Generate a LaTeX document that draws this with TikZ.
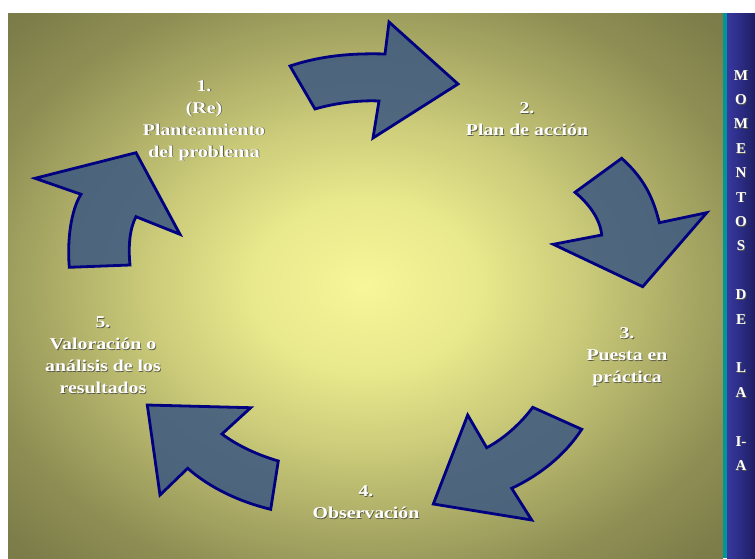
\documentclass[tikz,border=0pt]{standalone}
\usepackage{fontspec}
\setmainfont{Liberation Serif}
\newfontfamily\lblfont[FakeStretch=1.2]{Liberation Serif}
\usetikzlibrary{shadings}
\definecolor{arrowfill}{RGB}{62,90,128}
\definecolor{arrowline}{RGB}{0,0,128}
\definecolor{shadowc}{RGB}{90,90,70}
\definecolor{tealline}{RGB}{0,150,150}
\definecolor{panelL}{RGB}{56,56,160}
\definecolor{panelR}{RGB}{30,30,100}
\pgfdeclareradialshading{bgshade}{\pgfpoint{0bp}{0bp}}{%
rgb(0bp)=(0.97,0.97,0.60);
rgb(8bp)=(0.91,0.91,0.55);
rgb(15bp)=(0.80,0.80,0.48);
rgb(22bp)=(0.67,0.67,0.40);
rgb(28bp)=(0.56,0.56,0.33);
rgb(34bp)=(0.49,0.49,0.29);
rgb(50bp)=(0.43,0.43,0.26)}
\newcommand\shd[1]{\leavevmode\rlap{\kern0.8pt\raisebox{-0.8pt}{\color{shadowc}#1}}#1}
\tikzset{
  bigarrow/.style={draw=arrowline, line width=2.8pt, line join=miter,
    fill=arrowfill, fill opacity=0.87},
  lbl/.style={text=white, align=center, inner sep=0pt, anchor=north,
    font=\lblfont\bfseries\fontsize{16.5}{22}\selectfont},
  paneltext/.style={text=white, align=center, inner sep=0pt, anchor=north,
    font=\bfseries\fontsize{15}{24.4}\selectfont}
}
\begin{document}
\begin{tikzpicture}[x=1pt,y=-1pt]
\useasboundingbox (0,0) rectangle (755,558);
\fill[white] (0,0) rectangle (755,558);
% background
\shade[shading=bgshade] (8,13) rectangle (723,558);
% right panel
\fill[tealline] (723,13) rectangle (727,558);
\shade[left color=panelL, right color=panelR] (727,13) rectangle (755,558);

% arrow 1 (top)
\path[bigarrow] (290,66) .. controls (320,56) and (350,53) .. (385,54)
  -- (389,22) -- (458,84) -- (373,138) -- (379,101)
  .. controls (360,100) and (335,103) .. (315,109) -- cycle;
% arrow 2 (right)
\path[bigarrow] (621.7,158.3) -- (575,192.3)
  .. controls (588,203) and (600,218) .. (601.7,235)
  -- (553.3,244.3) -- (642.7,286.7) -- (706.7,212.7) -- (659.3,222.7)
  .. controls (652,192) and (640,175) .. cycle;
% arrow 3 (bottom right)
\path[bigarrow] (532.7,407.3) -- (581.7,429.3)
  .. controls (565,455) and (540,475) .. (511.7,488.3)
  -- (531.7,520) -- (433.3,504) -- (467.7,415) -- (486.7,447.7)
  .. controls (505,438) and (522,422) .. cycle;
% arrow 4 (bottom left)
\path[bigarrow] (147.3,405) -- (250.7,407.7) -- (222,434)
  .. controls (238,446) and (258,455) .. (278.3,461)
  -- (270.7,509.3)
  .. controls (240,502) and (210,488) .. (187.7,468.3)
  -- (160,495) -- cycle;
% arrow 5 (left)
\path[bigarrow] (136,152.7) -- (35,178.3) -- (81,194.3)
  .. controls (71,210) and (67,240) .. (69.3,267.3)
  -- (130,265)
  .. controls (128,245) and (130,228) .. (136,216.7)
  -- (180,234.3) -- cycle;

% labels
\node[lbl] (n1) at (204,80) {\shd{1.}\\\shd{(Re)}\\\shd{Planteamiento}\\\shd{del problema}};
\node[lbl] (n2) at (527,102.5) {\shd{2.}\\\shd{Plan de acción}};
\node[lbl] (n3) at (627,327.5) {\shd{3.}\\\shd{Puesta en}\\\shd{práctica}};
\node[lbl] (n4) at (366,485.5) {\shd{4.}\\\shd{Observación}};
\node[lbl] (n5) at (103,316.5) {\shd{5.}\\\shd{Valoración o}\\\shd{análisis de los}\\\shd{resultados}};

% panel text
\node[paneltext] (panel) at (741,70) {\shd{M}\\\shd{O}\\\shd{M}\\\shd{E}\\\shd{N}\\\shd{T}\\\shd{O}\\\shd{S}\\[24.4pt]\shd{D}\\\shd{E}\\[24.4pt]\shd{L}\\\shd{A}\\[24.4pt]\shd{I-}\\\shd{A}};
\end{tikzpicture}
\end{document}
